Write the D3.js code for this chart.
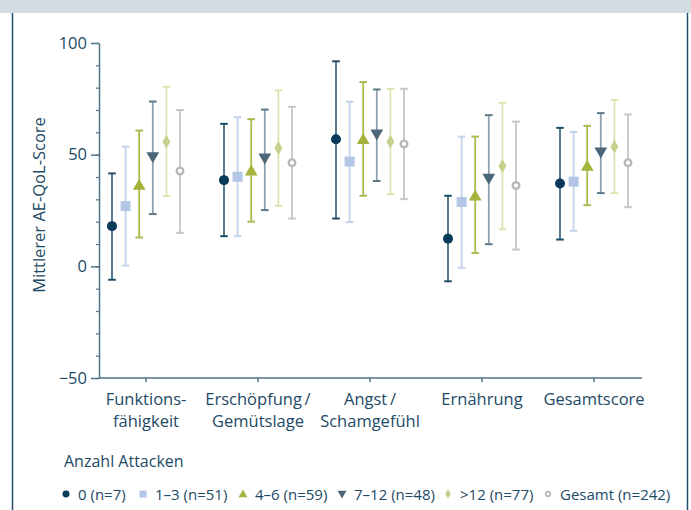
<!DOCTYPE html>
<html>
<head>
<meta charset="utf-8">
<script src="https://cdn.jsdelivr.net/npm/d3@7"></script>
<style>
  body { margin: 0; background: #fff; }
  svg { display: block; font-family: "Open Sans", "Noto Sans", sans-serif; }
</style>
</head>
<body>
<div id="chart"></div>
<script>
// Data
var categories = ["Funktionsfähigkeit", "Erschöpfung/Gemütslage", "Angst/Schamgefühl", "Ernährung", "Gesamtscore"];
var categoryLines = [["Funktions-", "fähigkeit"], ["Erschöpfung\u2009/", "Gemütslage"], ["Angst\u2009/", "Schamgefühl"], ["Ernährung"], ["Gesamtscore"]];
var seriesNames = ["0 (n=7)", "1–3 (n=51)", "4–6 (n=59)", "7–12 (n=48)", ">12 (n=77)", "Gesamt (n=242)"];
var yTicks = [-50, 0, 50, 100];

// mean, upper, lower per series (rows) and category (columns)
var means = [
    [18, 38.6, 56.9, 12.4, 37.1],
    [27, 40.1, 46.9, 28.8, 37.9],
    [36.4, 42.8, 56.9, 31.6, 44.9],
    [49, 48.4, 59.2, 39.4, 51.1],
    [55.8, 52.9, 55.8, 44.9, 53.6],
    [42.7, 46.4, 54.8, 36.2, 46.4]
];
var upper = [
    [41.6, 63.8, 91.8, 31.6, 62],
    [53.6, 66.8, 73.7, 58.1, 60.2],
    [60.8, 65.9, 82.5, 58.1, 62.9],
    [73.8, 70.2, 79.2, 67.7, 68.6],
    [80.4, 78.8, 79.4, 73.2, 74.5],
    [70, 71.4, 79.5, 64.8, 68]
];
var lower = [
    [-6, 13.5, 21.4, -6.7, 12],
    [0.3, 13.5, 19.8, -0.6, 15.9],
    [12.9, 20, 31.6, 6, 27.4],
    [23.4, 25.2, 38.2, 9.9, 32.8],
    [31.4, 27.1, 32.3, 16.6, 32.8],
    [15, 21.4, 30.1, 7.5, 26.5]
];

var markerColor = ["#083a5a", "#b3c6e6", "#a3b33c", "#4a6678", "#c5d28c", "#b8b8b8"];
var lineColor = ["#446d86", "#c4d3ee", "#abb94f", "#8fa1ae", "#dde4b2", "#c6c6c6"];
var capColor = ["#1d4a66", "#c4d3ee", "#abb94f", "#5f7888", "#dde4b2", "#c6c6c6"];
var symbols = [d3.symbolCircle, d3.symbolSquare, d3.symbolTriangle, "down", d3.symbolDiamond, "ring"];

var textColor = "#1d4a66",
    axisColor = "#4f7389",
    width = 691, height = 510;

var svg = d3.select("#chart").append("svg")
    .attr("width", width)
    .attr("height", height);

// Frame
svg.append("rect").attr("x", 0).attr("y", 0).attr("width", width).attr("height", 13).style("fill", "#d4dbe1");
svg.append("line").attr("x1", 12.5).attr("x2", 12.5).attr("y1", 13).attr("y2", height)
    .style("stroke", "#1f4d6b").style("stroke-width", 1.5);
svg.append("line").attr("x1", 687.5).attr("x2", 687.5).attr("y1", 13).attr("y2", height)
    .style("stroke", "#1f4d6b").style("stroke-width", 1.5);

// Scales
var x = d3.scaleBand().domain(categories).range([90, 650]);
var offset = d3.scalePoint().domain(seriesNames).range([-34, 34]);
var y = d3.scaleLinear().domain([-50, 100]).range([378, 43]);

// Y axis: minor ticks then major ticks
var yMinor = svg.append("g").attr("transform", "translate(99,0)")
    .call(d3.axisLeft(y).tickValues(d3.range(-50, 101, 10)).tickSize(3).tickFormat(""));
yMinor.select(".domain").remove();
yMinor.selectAll("line").style("stroke", axisColor).style("stroke-width", 1.2);

var yAxis = svg.append("g").attr("transform", "translate(99,0)")
    .call(d3.axisLeft(y).tickValues(yTicks).tickSize(8).tickSizeOuter(0)
        .tickFormat(function(d) { return d < 0 ? "\u2212" + Math.abs(d) : d; }));
yAxis.select(".domain").style("stroke", axisColor).style("stroke-width", 1.5);
yAxis.selectAll("line").style("stroke", axisColor).style("stroke-width", 1.5);
yAxis.selectAll("text").style("font-size", "16.5px").style("fill", textColor)
    .style("font-family", "Open Sans, sans-serif").attr("x", -12);

svg.append("text")
    .attr("transform", "translate(45,205) rotate(-90)")
    .style("text-anchor", "middle")
    .style("font-size", "16.5px")
    .style("fill", textColor)
    .text("Mittlerer AE-QoL-Score");

// X axis
var xAxis = svg.append("g").attr("transform", "translate(0," + y(-50) + ")")
    .call(d3.axisBottom(x).tickSize(4).tickSizeOuter(0).tickFormat(""));
xAxis.select(".domain").remove();
xAxis.selectAll("line").style("stroke", axisColor).style("stroke-width", 1.5);
svg.append("line").attr("x1", 99).attr("x2", 642).attr("y1", y(-50)).attr("y2", y(-50))
    .style("stroke", axisColor).style("stroke-width", 1.5);

categories.forEach(function(c, i) {
    var t = svg.append("text")
        .attr("x", x(c) + x.bandwidth() / 2)
        .attr("y", 405)
        .style("text-anchor", "middle")
        .style("font-size", "16.5px")
        .style("fill", textColor);
    categoryLines[i].forEach(function(line, j) {
        t.append("tspan").attr("x", x(c) + x.bandwidth() / 2).attr("dy", j === 0 ? 0 : 22).text(line);
    });
});

// Markers
function drawMarker(g, s, cx, cy, scale) {
    var sym = symbols[s];
    var k = scale || 1;
    if (sym === "ring") {
        g.append("circle").attr("cx", cx).attr("cy", cy).attr("r", 3.3 * k)
            .style("fill", "#fff").style("stroke", markerColor[s]).style("stroke-width", 2.4 * k);
    } else if (sym === "down") {
        g.append("path").attr("d", d3.symbol().type(d3.symbolTriangle).size(70 * k * k)())
            .attr("transform", "translate(" + cx + "," + (cy - 1 * k) + ") rotate(180)")
            .style("fill", markerColor[s]);
    } else {
        var size = sym === d3.symbolSquare ? 100 : sym === d3.symbolDiamond ? 55 : sym === d3.symbolTriangle ? 70 : 78;
        var dy = sym === d3.symbolTriangle ? 1 * k : 0;
        g.append("path").attr("d", d3.symbol().type(sym).size(size * k * k)())
            .attr("transform", "translate(" + cx + "," + (cy + dy) + ")")
            .style("fill", markerColor[s]);
    }
}

var plot = svg.append("g");
seriesNames.forEach(function(name, s) {
    categories.forEach(function(c, i) {
        var cx = x(c) + x.bandwidth() / 2 + offset(name);
        plot.append("line").attr("x1", cx).attr("x2", cx)
            .attr("y1", y(upper[s][i])).attr("y2", y(lower[s][i]))
            .style("stroke", lineColor[s]).style("stroke-width", 1.8);
        [upper[s][i], lower[s][i]].forEach(function(v) {
            plot.append("line").attr("x1", cx - 3.8).attr("x2", cx + 3.8)
                .attr("y1", y(v)).attr("y2", y(v))
                .style("stroke", capColor[s]).style("stroke-width", 2);
        });
        drawMarker(plot, s, cx, y(means[s][i]));
    });
});

// Legend
svg.append("text").attr("x", 64).attr("y", 467)
    .style("font-size", "16px").style("fill", textColor).text("Anzahl Attacken");

var legendX = [66, 143, 243, 342, 448, 548];
var legend = svg.append("g");
seriesNames.forEach(function(name, s) {
    drawMarker(legend, s, legendX[s], 494, 0.7);
    legend.append("text").attr("x", legendX[s] + 12).attr("y", 499.5)
        .style("font-size", "15px").style("fill", textColor).text(name);
});
</script>
</body>
</html>
